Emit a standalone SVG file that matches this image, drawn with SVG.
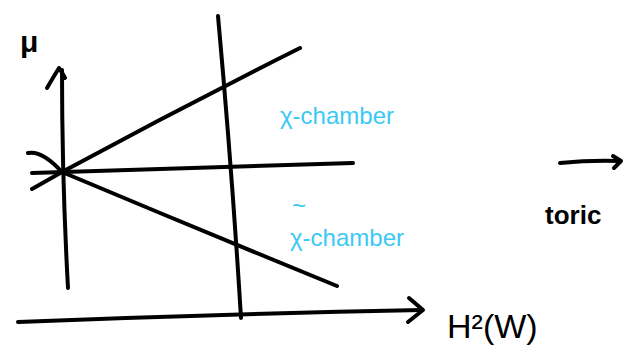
<svg xmlns="http://www.w3.org/2000/svg" width="627" height="349" viewBox="0 0 627 349">
<style>
.s{fill:none;stroke:#000;stroke-width:4;stroke-linecap:round;stroke-linejoin:round}
.b{font-family:"Liberation Sans",sans-serif;fill:#3cc8f5;font-size:24px}
.k{font-family:"Liberation Sans",sans-serif;fill:#000}
</style>
<rect width="627" height="349" fill="#fff"/>
<g id="connectors">
<path class="s" d="M18,322 Q220,314 422,310"/>
<path class="s" d="M409,298 L423,310 L408,322"/>
<path class="s" d="M68,288 Q62,180 62,70"/>
<path class="s" d="M47,88 Q54,76 59,68 Q62,72 65,78"/>
<path class="s" d="M218,16 Q232,170 241,318"/>
<path class="s" d="M32,189 L62,172 Q180,108 300,48"/>
<path class="s" d="M32,173 Q200,168 353,163"/>
<path class="s" d="M28,153 Q42,150 62,172 Q200,230 337,286"/>
<path class="s" d="M560,163 Q590,160 620,161"/>
<path class="s" d="M613,156 L621,161 L614,168"/>
</g>
<g id="mu"><text class="k" x="20" y="52" font-size="30" font-weight="bold">μ</text></g>
<g id="chi-chamber"><text class="b" x="280" y="124">χ-chamber</text></g>
<g id="chitilde-chamber"><text class="b" x="292" y="214" font-size="20">~</text><text class="b" x="290" y="246">χ-chamber</text></g>
<g id="H2W"><text class="k" x="447" y="338" font-size="34">H²(W)</text></g>
<g id="toric"><text class="k" x="545" y="224" font-size="26" font-weight="bold">toric</text></g>
</svg>
